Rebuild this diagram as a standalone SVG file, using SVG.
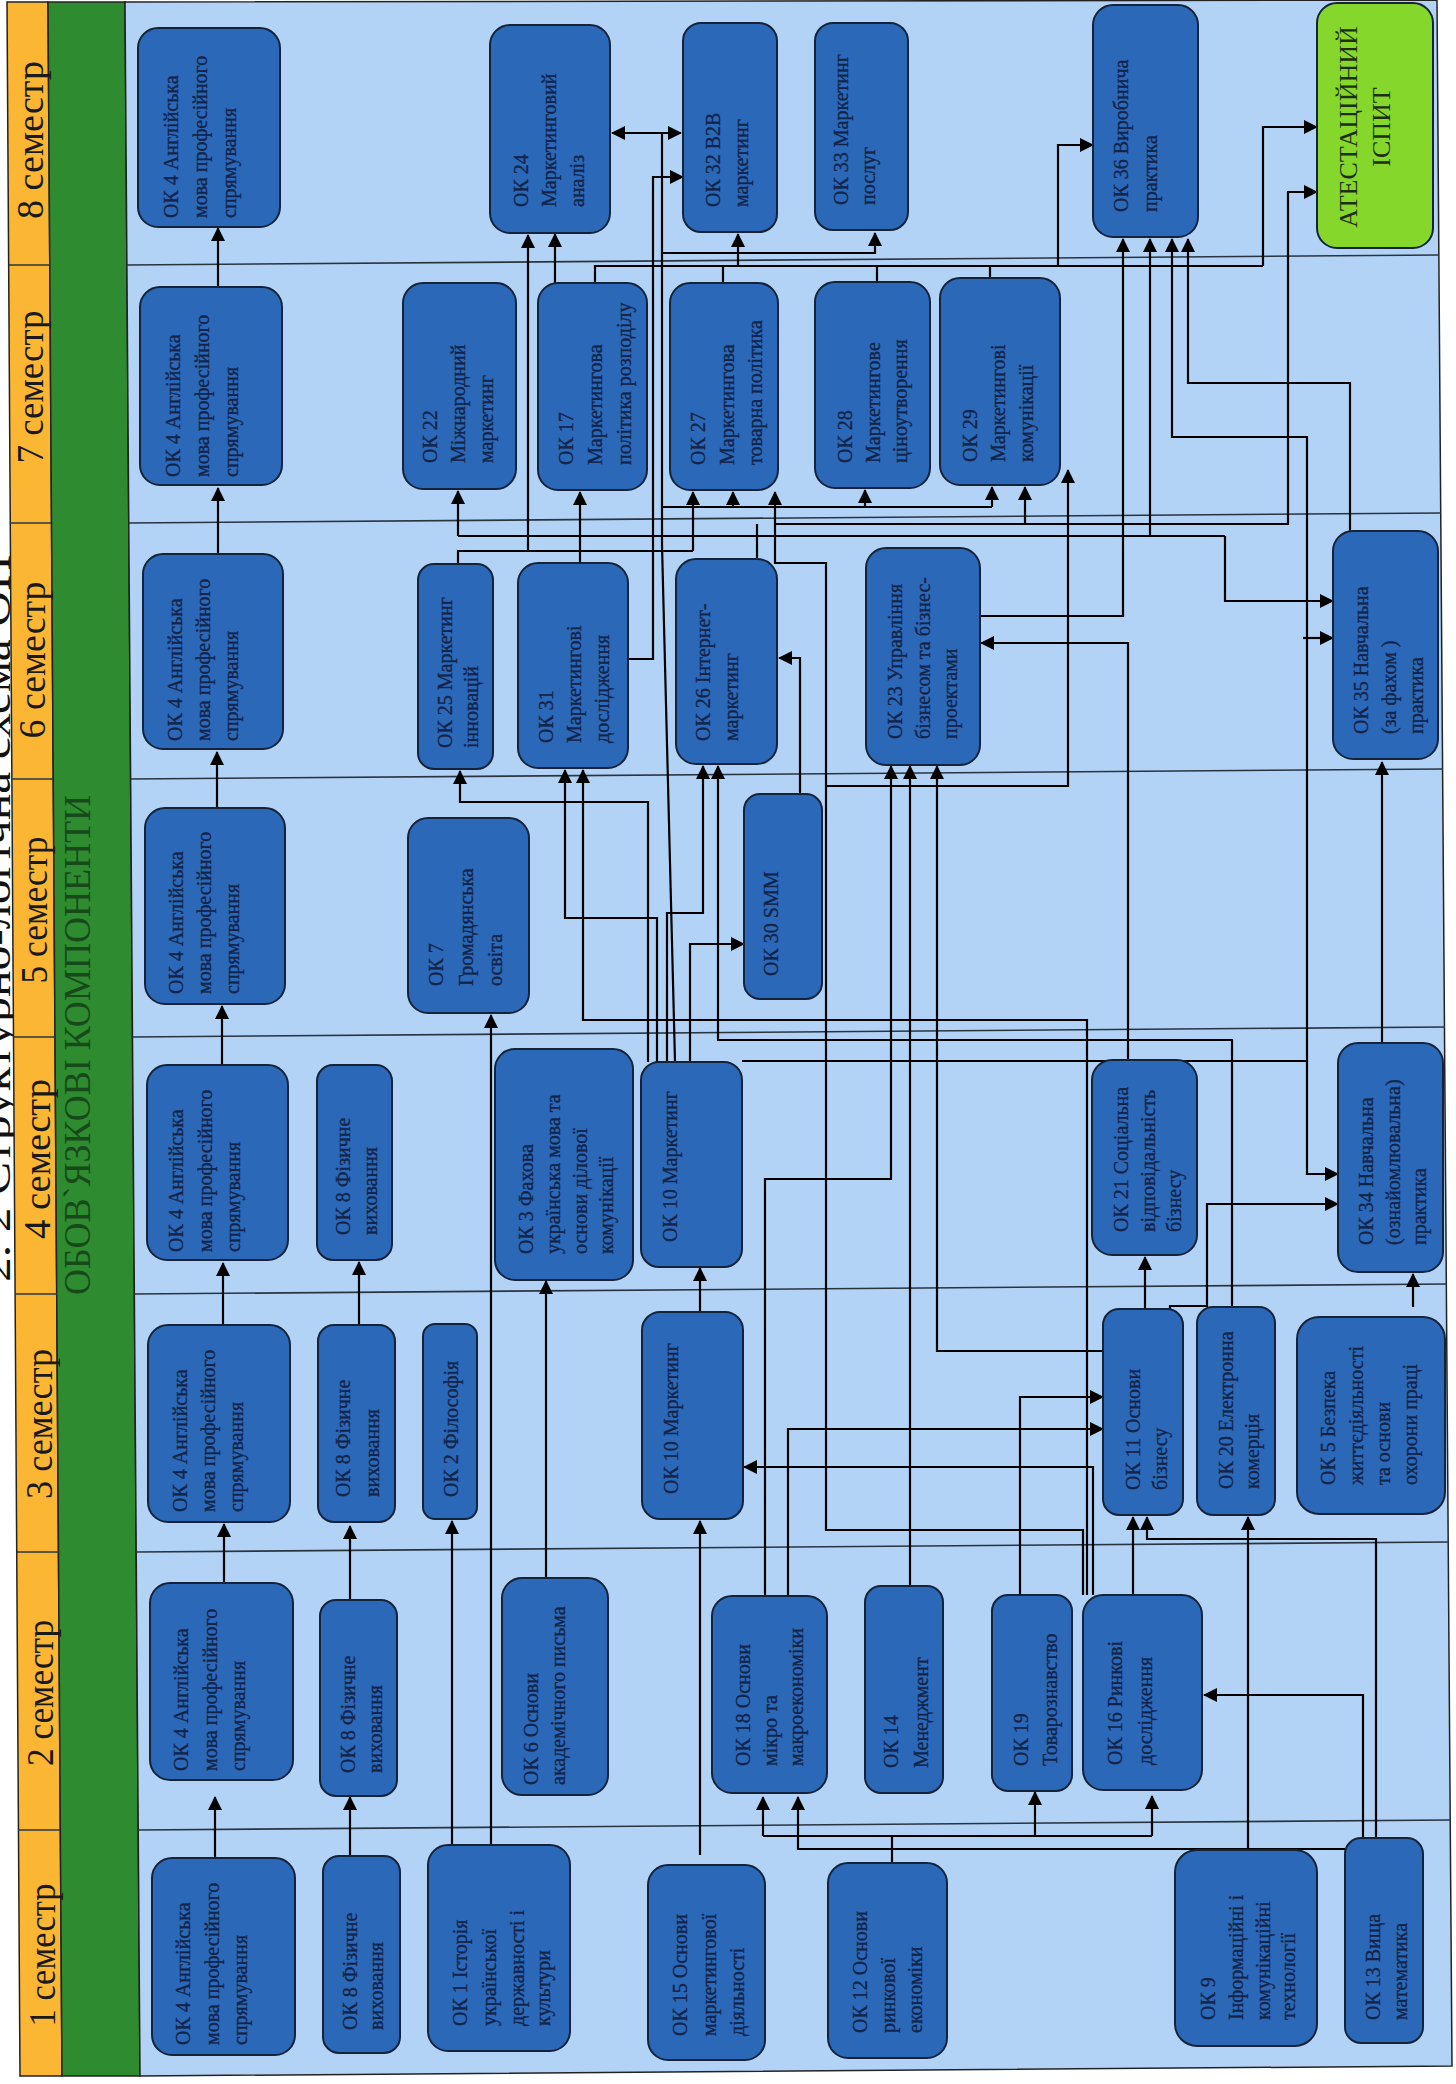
<svg xmlns="http://www.w3.org/2000/svg" width="1456" height="2084" viewBox="0 0 1456 2084">
<defs>
<marker id="ah" markerUnits="userSpaceOnUse" markerWidth="14" markerHeight="14" refX="13" refY="7" orient="auto-start-reverse"><path d="M0,0 L14,7 L0,14 z" fill="#000"/></marker>
<style>
.nd{fill:#2b69b8;stroke:#15233a;stroke-width:2}
.nt{font-family:"Liberation Serif","Times New Roman",serif;font-size:20px;fill:#13244a;stroke:#13244a;stroke-width:0.35}
.cn{fill:none;stroke:#000;stroke-width:2.2;marker-end:url(#ah)}
.ln{fill:none;stroke:#000;stroke-width:2.2}
.sl{stroke:#2a3440;stroke-width:1.6}
.sem{font-family:"Liberation Serif","Times New Roman",serif;font-size:37px;fill:#1a1a1a}
</style>
</defs>
<rect width="1456" height="2084" fill="#ffffff"/>
<text transform="translate(10,1282) rotate(-90)" textLength="727" lengthAdjust="spacingAndGlyphs" font-family="Liberation Serif, Times New Roman, serif" font-size="42" fill="#111">2. 2 Структурно-логічна схема ОП</text>
<g id="background">
<polygon points="7,2 48,2 62,2076 20,2076" fill="#fbb634" stroke="#222" stroke-width="1.5"/>
<polygon points="48,2 125,2 140,2076 62,2076" fill="#2e8b30" stroke="#222" stroke-width="1.5"/>
<polygon points="125,2 1437,0 1452,2066 140,2076" fill="#b2d3f5" stroke="#222" stroke-width="1.5"/>
<g class="sl">
<line x1="9" y1="265" x2="49" y2="265"/><line x1="127" y1="265" x2="1439" y2="255"/>
<line x1="10" y1="523" x2="51" y2="523"/><line x1="129" y1="523" x2="1441" y2="513"/>
<line x1="12" y1="779" x2="53" y2="779"/><line x1="131" y1="779" x2="1443" y2="769"/>
<line x1="13" y1="1037" x2="55" y2="1037"/><line x1="132" y1="1037" x2="1445" y2="1027"/>
<line x1="15" y1="1294" x2="57" y2="1294"/><line x1="134" y1="1294" x2="1447" y2="1284"/>
<line x1="17" y1="1552" x2="59" y2="1552"/><line x1="136" y1="1552" x2="1449" y2="1542"/>
<line x1="18" y1="1830" x2="60" y2="1830"/><line x1="138" y1="1830" x2="1450" y2="1820"/>
</g>
<text class="sem" transform="translate(43,140) rotate(-90)" text-anchor="middle" textLength="158" lengthAdjust="spacingAndGlyphs">8 семестр</text>
<text class="sem" transform="translate(43,387) rotate(-90)" text-anchor="middle" textLength="153" lengthAdjust="spacingAndGlyphs">7 семестр</text>
<text class="sem" transform="translate(45,660) rotate(-90)" text-anchor="middle" textLength="157" lengthAdjust="spacingAndGlyphs">6 семестр</text>
<text class="sem" transform="translate(47,910) rotate(-90)" text-anchor="middle" textLength="147" lengthAdjust="spacingAndGlyphs">5 семестр</text>
<text class="sem" transform="translate(50,1159) rotate(-90)" text-anchor="middle" textLength="160" lengthAdjust="spacingAndGlyphs">4 семестр</text>
<text class="sem" transform="translate(52,1424) rotate(-90)" text-anchor="middle" textLength="150" lengthAdjust="spacingAndGlyphs">3 семестр</text>
<text class="sem" transform="translate(53,1693) rotate(-90)" text-anchor="middle" textLength="146" lengthAdjust="spacingAndGlyphs">2 семестр</text>
<text class="sem" transform="translate(55,1955) rotate(-90)" text-anchor="middle" textLength="143" lengthAdjust="spacingAndGlyphs">1 семестр</text>
<text transform="translate(90,1045) rotate(-90)" text-anchor="middle" textLength="500" lengthAdjust="spacingAndGlyphs" font-family="Liberation Serif, Times New Roman, serif" font-size="37" fill="#164a18">ОБОВ`ЯЗКОВІ КОМПОНЕНТИ</text>
</g>
<g id="connectors">
<path class="cn" d="M215,1858 V1797"/>
<path class="cn" d="M224,1583 V1524"/>
<path class="cn" d="M223,1325 V1263"/>
<path class="cn" d="M222,1065 V1006"/>
<path class="cn" d="M217,808 V752"/>
<path class="cn" d="M218,554 V488"/>
<path class="cn" d="M218,287 V228"/>
<path class="cn" d="M350,1856 V1797"/>
<path class="cn" d="M350,1600 V1526"/>
<path class="cn" d="M359,1325 V1262"/>
<path class="cn" d="M452,1845 V1521"/>
<path class="cn" d="M491,1845 V1015"/>
<path class="cn" d="M546,1578 V1281"/>
<path class="cn" d="M700,1855 V1521"/>
<path class="cn" d="M700,1312 V1268"/>
<path class="ln" d="M892,1863 V1836 M763,1836 H1152"/>
<path class="cn" d="M763,1836 V1797"/>
<path class="cn" d="M1035,1836 V1792"/>
<path class="cn" d="M1152,1836 V1796"/>
<path class="cn" d="M1345,1849 H798 V1797"/>
<path class="cn" d="M1363,1838 V1695 H1204"/>
<path class="cn" d="M1376,1838 V1539 H1147 V1517"/>
<path class="cn" d="M1248,1850 V1517"/>
<path class="cn" d="M1133,1595 V1517"/>
<path class="cn" d="M1020,1595 V1397 H1103"/>
<path class="cn" d="M788,1596 V1429 H1103"/>
<path class="cn" d="M765,1596 V1179 H891 V766"/>
<path class="cn" d="M1103,1351 H937 V766"/>
<path class="cn" d="M910,1586 V766"/>
<path class="cn" d="M1093,1595 V1467 H744"/>
<path class="cn" d="M1087,1595 V1020 H583 V770"/>
<path class="cn" d="M1083,1595 V1530 H826 V563 H775 V492"/>
<path class="cn" d="M775,524 H1288 V192 H1317"/>
<path class="ln" d="M757,559 V524"/>
<path class="cn" d="M1025,524 V487"/>
<path class="cn" d="M826,786 H1068 V470"/>
<path class="cn" d="M1232,1309 V1040 H718 V766"/>
<path class="cn" d="M648,1062 V802 H460 V771"/>
<path class="cn" d="M657,1062 V918 H565 V770"/>
<path class="cn" d="M667,1062 V913 H703 V766"/>
<path class="cn" d="M690,1062 V944 H744"/>
<path class="cn" d="M800,794 V658 H779"/>
<path class="cn" d="M1145,1309 V1257"/>
<path class="cn" d="M1170,1309 V1306 H1207 V1204 H1338"/>
<path class="cn" d="M1128,1060 V643 H981"/>
<path class="cn" d="M980,616 H1123 V239"/>
<path class="cn" d="M742,1061 H1307 V437 H1172 V239"/>
<path class="cn" d="M1303,638 H1333"/>
<path class="cn" d="M1307,1061 V1174 H1338"/>
<path class="cn" d="M1382,1043 V762"/>
<path class="cn" d="M1413,1307 V1274"/>
<path class="cn" d="M1350,531 V383 H1188 V239"/>
<path class="ln" d="M580,563 V536 M458,536 H1225"/>
<path class="cn" d="M458,536 V491"/>
<path class="cn" d="M580,536 V492"/>
<path class="cn" d="M1150,536 V239"/>
<path class="cn" d="M1225,536 V601 H1333"/>
<path class="cn" d="M555,283 V234"/>
<path class="ln" d="M595,283 V266 H1263"/>
<path class="cn" d="M1263,266 V127 H1317"/>
<path class="ln" d="M723,283 V266 M877,282 V266 M990,278 V266"/>
<path class="cn" d="M738,266 V234"/>
<path class="cn" d="M1058,266 V145 H1093"/>
<path class="cn" d="M628,659 H653 V177 H683"/>
<path class="ln" d="M612,133 H681" style="marker-start:url(#ah);marker-end:url(#ah)"/>
<path class="ln" d="M675,1062 L662,545 V133"/>
<path class="cn" d="M662,253 H875 V233"/>
<path class="ln" d="M662,507 H992"/>
<path class="cn" d="M733,507 V492"/>
<path class="cn" d="M865,507 V490"/>
<path class="cn" d="M992,507 V487"/>
<path class="ln" d="M458,564 V551 H693"/>
<path class="cn" d="M528,551 V235"/>
<path class="cn" d="M693,551 V492"/>
</g>
<g id="nodes">
<g id="n-ok4-8"><rect class="nd" x="138" y="28" width="142" height="199" rx="20"/><text class="nt" transform="translate(178,218) rotate(-90)"><tspan x="0">ОК 4 Англійська</tspan><tspan x="0" dy="29">мова професійного</tspan><tspan x="0" dy="29">спрямування</tspan></text></g>
<g id="n-ok24"><rect class="nd" x="490" y="25" width="120" height="208" rx="20"/><text class="nt" transform="translate(528,207) rotate(-90)"><tspan x="0">ОК 24</tspan><tspan x="0" dy="28">Маркетинговий</tspan><tspan x="0" dy="28">аналіз</tspan></text></g>
<g id="n-ok32"><rect class="nd" x="683" y="23" width="94" height="209" rx="18"/><text class="nt" transform="translate(720,207) rotate(-90)"><tspan x="0">ОК 32 B2B</tspan><tspan x="0" dy="28">маркетинг</tspan></text></g>
<g id="n-ok33"><rect class="nd" x="815" y="23" width="93" height="207" rx="18"/><text class="nt" transform="translate(848,205) rotate(-90)"><tspan x="0">ОК 33 Маркетинг</tspan><tspan x="0" dy="27">послуг</tspan></text></g>
<g id="n-ok36"><rect class="nd" x="1093" y="5" width="105" height="232" rx="20"/><text class="nt" transform="translate(1128,212) rotate(-90)"><tspan x="0">ОК 36 Виробнича</tspan><tspan x="0" dy="29">практика</tspan></text></g>
<g id="n-atest"><rect x="1317" y="3" width="116" height="245" rx="20" fill="#86d72c" stroke="#15233a" stroke-width="2"/><text transform="translate(1357,127) rotate(-90)" text-anchor="middle" font-family="Liberation Serif, Times New Roman, serif" font-size="26" fill="#1c3010"><tspan x="0">АТЕСТАЦІЙНИЙ</tspan><tspan x="0" dy="33">ІСПИТ</tspan></text></g>

<g id="n-ok4-7"><rect class="nd" x="140" y="287" width="142" height="198" rx="20"/><text class="nt" transform="translate(180,477) rotate(-90)"><tspan x="0">ОК 4 Англійська</tspan><tspan x="0" dy="29">мова професійного</tspan><tspan x="0" dy="29">спрямування</tspan></text></g>
<g id="n-ok22"><rect class="nd" x="403" y="283" width="113" height="206" rx="20"/><text class="nt" transform="translate(437,463) rotate(-90)"><tspan x="0">ОК 22</tspan><tspan x="0" dy="28">Міжнародний</tspan><tspan x="0" dy="28">маркетинг</tspan></text></g>
<g id="n-ok17"><rect class="nd" x="538" y="283" width="109" height="207" rx="20"/><text class="nt" transform="translate(573,465) rotate(-90)"><tspan x="0">ОК 17</tspan><tspan x="0" dy="29">Маркетингова</tspan><tspan x="0" dy="29">політика розподілу</tspan></text></g>
<g id="n-ok27"><rect class="nd" x="670" y="283" width="108" height="207" rx="20"/><text class="nt" transform="translate(705,465) rotate(-90)"><tspan x="0">ОК 27</tspan><tspan x="0" dy="28.5">Маркетингова</tspan><tspan x="0" dy="28.5">товарна політика</tspan></text></g>
<g id="n-ok28"><rect class="nd" x="815" y="282" width="115" height="206" rx="20"/><text class="nt" transform="translate(852,463) rotate(-90)"><tspan x="0">ОК 28</tspan><tspan x="0" dy="27.5">Маркетингове</tspan><tspan x="0" dy="27.5">ціноутворення</tspan></text></g>
<g id="n-ok29"><rect class="nd" x="940" y="278" width="120" height="207" rx="20"/><text class="nt" transform="translate(977,462) rotate(-90)"><tspan x="0">ОК 29</tspan><tspan x="0" dy="28">Маркетингові</tspan><tspan x="0" dy="28">комунікації</tspan></text></g>

<g id="n-ok4-6"><rect class="nd" x="143" y="554" width="140" height="195" rx="20"/><text class="nt" transform="translate(182,741) rotate(-90)"><tspan x="0">ОК 4 Англійська</tspan><tspan x="0" dy="28">мова професійного</tspan><tspan x="0" dy="28">спрямування</tspan></text></g>
<g id="n-ok25"><rect class="nd" x="418" y="564" width="75" height="205" rx="16"/><text class="nt" transform="translate(452,748) rotate(-90)"><tspan x="0">ОК 25 Маркетинг</tspan><tspan x="0" dy="26">інновацій</tspan></text></g>
<g id="n-ok31"><rect class="nd" x="518" y="563" width="110" height="205" rx="20"/><text class="nt" transform="translate(553,743) rotate(-90)"><tspan x="0">ОК 31</tspan><tspan x="0" dy="28">Маркетингові</tspan><tspan x="0" dy="28">дослідження</tspan></text></g>
<g id="n-ok26"><rect class="nd" x="676" y="559" width="101" height="205" rx="20"/><text class="nt" transform="translate(710,741) rotate(-90)"><tspan x="0">ОК 26 Інтернет-</tspan><tspan x="0" dy="28">маркетинг</tspan></text></g>
<g id="n-ok23"><rect class="nd" x="866" y="548" width="114" height="217" rx="20"/><text class="nt" transform="translate(902,739) rotate(-90)"><tspan x="0">ОК 23 Управління</tspan><tspan x="0" dy="27.5">бізнесом та бізнес-</tspan><tspan x="0" dy="27.5">проектами</tspan></text></g>
<g id="n-ok35"><rect class="nd" x="1333" y="531" width="105" height="228" rx="20"/><text class="nt" transform="translate(1368,734) rotate(-90)"><tspan x="0">ОК 35  Навчальна</tspan><tspan x="0" dy="28">(за фахом )</tspan><tspan x="0" dy="27">практика</tspan></text></g>

<g id="n-ok4-5"><rect class="nd" x="145" y="808" width="140" height="196" rx="20"/><text class="nt" transform="translate(183,994) rotate(-90)"><tspan x="0">ОК 4 Англійська</tspan><tspan x="0" dy="28">мова професійного</tspan><tspan x="0" dy="28">спрямування</tspan></text></g>
<g id="n-ok7"><rect class="nd" x="408" y="818" width="121" height="195" rx="20"/><text class="nt" transform="translate(443,986) rotate(-90)"><tspan x="0">ОК 7</tspan><tspan x="0" dy="29.5">Громадянська</tspan><tspan x="0" dy="29.5">освіта</tspan></text></g>
<g id="n-ok30"><rect class="nd" x="744" y="794" width="78" height="205" rx="16"/><text class="nt" transform="translate(778,976) rotate(-90)">ОК 30 SMM</text></g>

<g id="n-ok4-4"><rect class="nd" x="147" y="1065" width="141" height="195" rx="20"/><text class="nt" transform="translate(183,1252) rotate(-90)"><tspan x="0">ОК 4 Англійська</tspan><tspan x="0" dy="28.5">мова професійного</tspan><tspan x="0" dy="28.5">спрямування</tspan></text></g>
<g id="n-ok8-4"><rect class="nd" x="317" y="1065" width="75" height="195" rx="16"/><text class="nt" transform="translate(350,1235) rotate(-90)"><tspan x="0">ОК 8 Фізичне</tspan><tspan x="0" dy="27">виховання</tspan></text></g>
<g id="n-ok3"><rect class="nd" x="495" y="1049" width="138" height="231" rx="20"/><text class="nt" transform="translate(533,1254) rotate(-90)"><tspan x="0">ОК 3 Фахова</tspan><tspan x="0" dy="27">українська мова та</tspan><tspan x="0" dy="27">основи ділової</tspan><tspan x="0" dy="26">комунікації</tspan></text></g>
<g id="n-ok10-4"><rect class="nd" x="641" y="1062" width="101" height="205" rx="18"/><text class="nt" transform="translate(677,1242) rotate(-90)">ОК 10 Маркетинг</text></g>
<g id="n-ok21"><rect class="nd" x="1092" y="1060" width="105" height="195" rx="20"/><text class="nt" transform="translate(1128,1232) rotate(-90)"><tspan x="0">ОК 21 Соціальна</tspan><tspan x="0" dy="26.5">відповідальність</tspan><tspan x="0" dy="26">бізнесу</tspan></text></g>
<g id="n-ok34"><rect class="nd" x="1338" y="1043" width="105" height="229" rx="20"/><text class="nt" transform="translate(1373,1245) rotate(-90)"><tspan x="0">ОК 34 Навчальна</tspan><tspan x="0" dy="26.5">(ознайомлювальна)</tspan><tspan x="0" dy="26">практика</tspan></text></g>

<g id="n-ok4-3"><rect class="nd" x="148" y="1325" width="142" height="197" rx="20"/><text class="nt" transform="translate(187,1512) rotate(-90)"><tspan x="0">ОК 4 Англійська</tspan><tspan x="0" dy="28">мова професійного</tspan><tspan x="0" dy="27.5">спрямування</tspan></text></g>
<g id="n-ok8-3"><rect class="nd" x="318" y="1325" width="77" height="197" rx="16"/><text class="nt" transform="translate(350,1497) rotate(-90)"><tspan x="0">ОК 8 Фізичне</tspan><tspan x="0" dy="29">виховання</tspan></text></g>
<g id="n-ok2"><rect class="nd" x="423" y="1324" width="54" height="195" rx="12"/><text class="nt" transform="translate(458,1497) rotate(-90)">ОК 2 Філософія</text></g>
<g id="n-ok10-3"><rect class="nd" x="642" y="1312" width="101" height="207" rx="18"/><text class="nt" transform="translate(678,1494) rotate(-90)">ОК 10 Маркетинг</text></g>
<g id="n-ok11"><rect class="nd" x="1103" y="1309" width="80" height="206" rx="16"/><text class="nt" transform="translate(1140,1490) rotate(-90)"><tspan x="0">ОК 11 Основи</tspan><tspan x="0" dy="27">бізнесу</tspan></text></g>
<g id="n-ok20"><rect class="nd" x="1197" y="1307" width="78" height="208" rx="16"/><text class="nt" transform="translate(1233,1489) rotate(-90)"><tspan x="0">ОК 20 Електронна</tspan><tspan x="0" dy="26">комерція</tspan></text></g>
<g id="n-ok5"><rect class="nd" x="1297" y="1317" width="148" height="197" rx="22"/><text class="nt" transform="translate(1335,1485) rotate(-90)"><tspan x="0">ОК 5 Безпека</tspan><tspan x="0" dy="28">життєдіяльності</tspan><tspan x="0" dy="27">та основи</tspan><tspan x="0" dy="27">охорони праці</tspan></text></g>

<g id="n-ok4-2"><rect class="nd" x="150" y="1583" width="143" height="197" rx="20"/><text class="nt" transform="translate(188,1771) rotate(-90)"><tspan x="0">ОК 4 Англійська</tspan><tspan x="0" dy="28.5">мова професійного</tspan><tspan x="0" dy="28">спрямування</tspan></text></g>
<g id="n-ok8-2"><rect class="nd" x="320" y="1600" width="77" height="196" rx="16"/><text class="nt" transform="translate(355,1773) rotate(-90)"><tspan x="0">ОК 8 Фізичне</tspan><tspan x="0" dy="27">виховання</tspan></text></g>
<g id="n-ok6"><rect class="nd" x="502" y="1578" width="106" height="217" rx="20"/><text class="nt" transform="translate(538,1785) rotate(-90)"><tspan x="0">ОК 6 Основи</tspan><tspan x="0" dy="27">академічного письма</tspan></text></g>
<g id="n-ok18"><rect class="nd" x="712" y="1596" width="115" height="197" rx="20"/><text class="nt" transform="translate(750,1766) rotate(-90)"><tspan x="0">ОК 18 Основи</tspan><tspan x="0" dy="27">мікро та</tspan><tspan x="0" dy="26">макроекономіки</tspan></text></g>
<g id="n-ok14"><rect class="nd" x="865" y="1586" width="78" height="207" rx="16"/><text class="nt" transform="translate(898,1768) rotate(-90)"><tspan x="0">ОК 14</tspan><tspan x="0" dy="30">Менеджмент</tspan></text></g>
<g id="n-ok19"><rect class="nd" x="992" y="1595" width="80" height="196" rx="16"/><text class="nt" transform="translate(1028,1766) rotate(-90)"><tspan x="0">ОК 19</tspan><tspan x="0" dy="29">Товарознавство</tspan></text></g>
<g id="n-ok16"><rect class="nd" x="1083" y="1595" width="119" height="195" rx="20"/><text class="nt" transform="translate(1122,1765) rotate(-90)"><tspan x="0">ОК 16 Ринкові</tspan><tspan x="0" dy="30">дослідження</tspan></text></g>

<g id="n-ok4-1"><rect class="nd" x="152" y="1858" width="143" height="197" rx="20"/><text class="nt" transform="translate(190,2045) rotate(-90)"><tspan x="0">ОК 4 Англійська</tspan><tspan x="0" dy="29">мова професійного</tspan><tspan x="0" dy="28">спрямування</tspan></text></g>
<g id="n-ok8-1"><rect class="nd" x="323" y="1856" width="77" height="197" rx="16"/><text class="nt" transform="translate(357,2030) rotate(-90)"><tspan x="0">ОК 8 Фізичне</tspan><tspan x="0" dy="26">виховання</tspan></text></g>
<g id="n-ok1"><rect class="nd" x="428" y="1845" width="142" height="206" rx="20"/><text class="nt" transform="translate(467,2026) rotate(-90)"><tspan x="0">ОК 1 Історія</tspan><tspan x="0" dy="29">української</tspan><tspan x="0" dy="28">державності і</tspan><tspan x="0" dy="26">культури</tspan></text></g>
<g id="n-ok15"><rect class="nd" x="648" y="1865" width="117" height="195" rx="20"/><text class="nt" transform="translate(687,2036) rotate(-90)"><tspan x="0">ОК 15 Основи</tspan><tspan x="0" dy="29">маркетингової</tspan><tspan x="0" dy="28">діяльності</tspan></text></g>
<g id="n-ok12"><rect class="nd" x="828" y="1863" width="119" height="195" rx="20"/><text class="nt" transform="translate(867,2033) rotate(-90)"><tspan x="0">ОК 12 Основи</tspan><tspan x="0" dy="28">ринкової</tspan><tspan x="0" dy="27">економіки</tspan></text></g>
<g id="n-ok9"><rect class="nd" x="1175" y="1850" width="142" height="196" rx="22"/><text class="nt" transform="translate(1215,2020) rotate(-90)"><tspan x="0">ОК 9</tspan><tspan x="0" dy="28">Інформаційні і</tspan><tspan x="0" dy="27">комунікаційні</tspan><tspan x="0" dy="25">технології</tspan></text></g>
<g id="n-ok13"><rect class="nd" x="1345" y="1838" width="78" height="205" rx="16"/><text class="nt" transform="translate(1380,2020) rotate(-90)"><tspan x="0">ОК 13 Вища</tspan><tspan x="0" dy="27">математика</tspan></text></g>
</g>
</svg>
